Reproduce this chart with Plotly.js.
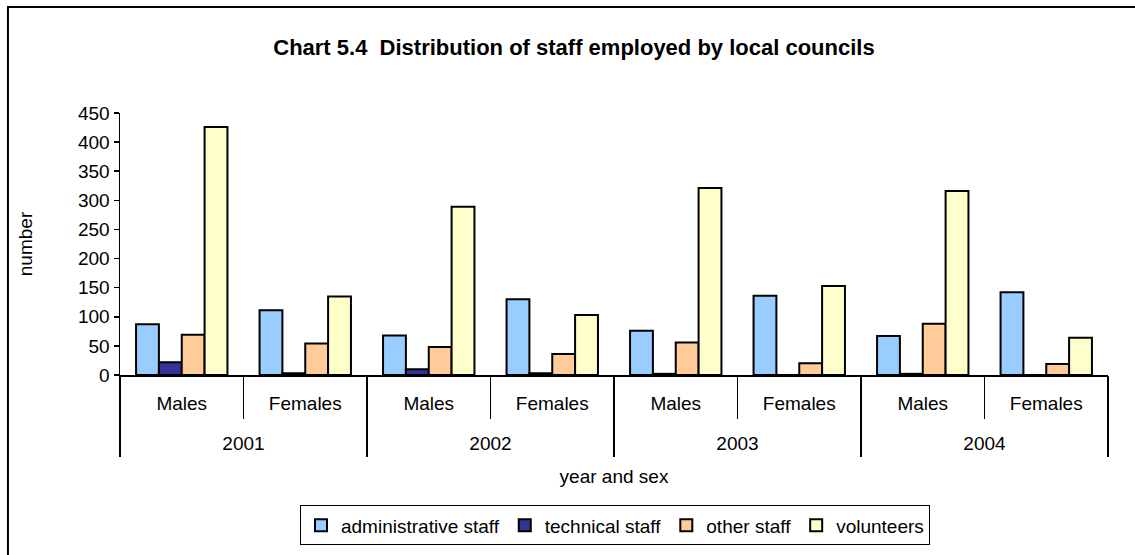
<!DOCTYPE html>
<html>
<head>
<meta charset="utf-8">
<script src="https://cdn.plot.ly/plotly-3.0.1.min.js"></script>
<style>
html,body{margin:0;padding:0;background:#fff;}
#chart{width:1135px;height:555px;}
</style>
</head>
<body>
<div id="chart"></div>
<script>
var years = ["2001","2001","2002","2002","2003","2003","2004","2004"];
var sexes = ["Males","Females","Males","Females","Males","Females","Males","Females"];
var yearLabels = ["2001","2002","2003","2004"];
var administrative = [87, 111, 68, 130, 76, 136, 67, 142];
var technical = [22, 3, 10, 3, 2, 0, 2, 0];
var other = [69, 54, 48, 36, 56, 20, 88, 19];
var volunteers = [426, 135, 289, 103, 321, 153, 316, 64];
var seriesNames = ["administrative staff","technical staff","other staff","volunteers"];
var seriesColors = ["#99CCFF","#333399","#FFCC99","#FFFFCC"];
var seriesValues = [administrative, technical, other, volunteers];

var keys = years.map(function(y, i){ return y + " " + sexes[i]; });

var traces = seriesValues.map(function(v, i){
  return {
    type: "bar",
    name: seriesNames[i],
    x: keys,
    y: v,
    xaxis: "x", yaxis: "y",
    marker: {color: seriesColors[i], line: {color: "#000", width: 2}},
    hoverinfo: "y+name"
  };
});
// helper trace so that the year axis knows its categories
traces.push({
  type: "scatter", mode: "markers", x: yearLabels, y: [null, null, null, null],
  xaxis: "x2", yaxis: "y", showlegend: false, hoverinfo: "skip",
  marker: {opacity: 0}
});

var font = {family: "Liberation Sans, Arial, sans-serif", size: 19, color: "#000"};

var layout = {
  width: 1135, height: 555,
  margin: {l: 120, r: 27, t: 113, b: 180, pad: 0},
  paper_bgcolor: "#fff", plot_bgcolor: "#fff",
  font: font,
  title: {text: "<b>Chart 5.4  Distribution of staff employed by local councils</b>",
          font: {family: "Liberation Sans, Arial, sans-serif", size: 22, color: "#000"},
          x: 0.5057, xanchor: "center", y: 0.915, yanchor: "middle"},
  barmode: "group",
  bargap: 0.26,
  bargroupgap: 0,
  showlegend: true,
  legend: {orientation: "h", x: 0.501, xanchor: "center",
           yref: "container", y: 0.0892, yanchor: "top",
           bordercolor: "#000", borderwidth: 1, bgcolor: "#fff",
           font: font, traceorder: "normal", itemwidth: 30},
  xaxis: {
    type: "category", range: [-0.5, 7.5],
    tickmode: "array", tickvals: keys, ticktext: sexes,
    showline: true, linecolor: "#000", linewidth: 1.5,
    ticks: "outside", tickson: "boundaries", ticklen: 42, tickcolor: "#000", tickwidth: 1.5,
    ticklabelstandoff: 11,
    showgrid: false, zeroline: false,
    tickfont: font
  },
  xaxis2: {
    type: "category", range: [-0.5, 3.5], overlaying: "x", anchor: "y", side: "bottom",
    categoryorder: "array", categoryarray: yearLabels,
    showline: false,
    ticks: "outside", tickson: "boundaries", ticklen: 81, tickcolor: "#000", tickwidth: 1.5,
    ticklabelstandoff: 55,
    showgrid: false, zeroline: false,
    tickfont: font,
    title: {text: "year and sex", font: font, standoff: 16}
  },
  yaxis: {
    range: [0, 450], dtick: 50, tick0: 0,
    showline: true, linecolor: "#000", linewidth: 1.5,
    ticks: "outside", ticklen: 5, tickcolor: "#000", tickwidth: 1.5,
    showgrid: false, zeroline: false,
    tickfont: font,
    title: {text: "number", font: font, standoff: 40}
  },
  shapes: [{
    type: "rect", xref: "paper", yref: "paper",
    x0: -0.1134, x1: 1.2, y0: -1.0, y1: 1.4046,
    line: {color: "#000", width: 2}, fillcolor: "rgba(0,0,0,0)", layer: "below"
  }]
};

Plotly.newPlot("chart", traces, layout, {displayModeBar: false, staticPlot: true});
</script>
</body>
</html>
